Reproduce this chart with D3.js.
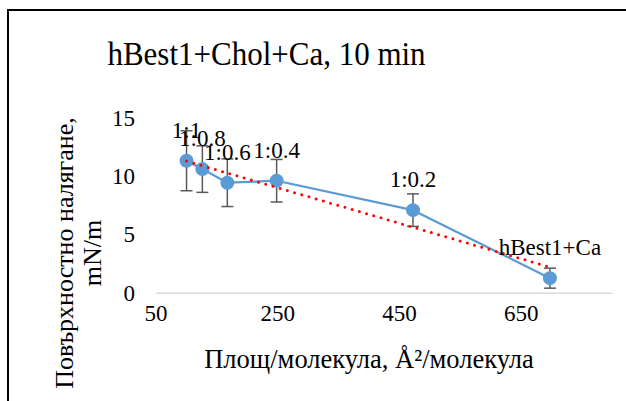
<!DOCTYPE html>
<html>
<head>
<meta charset="utf-8">
<script src="https://cdn.jsdelivr.net/npm/d3@7"></script>
<style>
  html, body { margin: 0; padding: 0; background: #fff; }
  svg { display: block; }
</style>
</head>
<body>
<svg id="chart" width="626" height="401"></svg>
<script>
// Surface pressure vs. area per molecule, hBest1 with cholesterol and Ca
const labels = ["1:1", "1:0.8", "1:0.6", "1:0.4", "1:0.2", "hBest1+Ca"];
const areas = [101, 127, 168, 249, 473, 698];
const pressures = [11.35, 10.63, 9.46, 9.63, 7.1, 1.25];
const errors = [2.58, 2.0, 2.05, 1.83, 1.4, 0.86];
const xTicks = [50, 250, 450, 650];
const yTicks = [0, 5, 10, 15];

const FONT = "'Liberation Serif'";

const svg = d3.select("#chart");

// Chart frame (right and bottom run past the visible area)
svg.append("rect")
  .attr("x", 8).attr("y", 10)
  .attr("width", 700).attr("height", 500)
  .attr("fill", "none").attr("stroke", "#000").attr("stroke-width", 2);

const x = d3.scaleLinear().domain([50, 800]).range([155.5, 612]);
const y = d3.scaleLinear().domain([0, 15]).range([292.7, 118.3]);

function serif(sel, size) {
  return sel.style("font-family", FONT).style("font-size", size + "px").style("fill", "#000");
}

// Title
serif(svg.append("text")
  .attr("transform", "translate(266.5,65) scale(1,1.12)")
  .attr("text-anchor", "middle"), 31)
  .text("hBest1+Chol+Ca, 10 min");

// X axis line and tick labels
const xAxis = d3.axisBottom(x).tickValues(xTicks).tickSize(0).tickPadding(12);
const gx = svg.append("g").attr("transform", `translate(0,${y(0)})`).call(xAxis);
gx.select(".domain").attr("stroke", "#d9d9d9").attr("stroke-width", 1.5);
serif(gx.selectAll("text"), 23);

// Y axis tick labels only
const yAxis = d3.axisLeft(y).tickValues(yTicks).tickSize(0).tickPadding(0);
const gy = svg.append("g").attr("transform", "translate(135,0)").call(yAxis);
gy.select(".domain").remove();
serif(gy.selectAll("text"), 23);

// Axis titles
serif(svg.append("text")
  .attr("x", 369).attr("y", 368)
  .attr("text-anchor", "middle"), 26.5)
  .text("Площ/молекула, Å²/молекула");

const yTitle = serif(svg.append("text")
  .attr("transform", "rotate(-90)")
  .attr("text-anchor", "middle"), 26);
yTitle.append("tspan").attr("x", -253).attr("y", 73).text("Повърхностно налягане,");
yTitle.append("tspan").attr("x", -253).attr("y", 101).text("mN/m");

const pts = areas.map((a, i) => ({ a, p: pressures[i], e: errors[i], label: labels[i] }));

// Series line
svg.append("path")
  .datum(pts)
  .attr("fill", "none")
  .attr("stroke", "#5b9bd5")
  .attr("stroke-width", 2.25)
  .attr("stroke-linejoin", "round")
  .attr("d", d3.line().x(d => x(d.a)).y(d => y(d.p)));

// Error bars
const eb = svg.append("g").attr("stroke", "#595959").attr("stroke-width", 1.5);
pts.forEach(d => {
  eb.append("line").attr("x1", x(d.a)).attr("x2", x(d.a)).attr("y1", y(d.p - d.e)).attr("y2", y(d.p + d.e));
  [d.p - d.e, d.p + d.e].forEach(v => {
    eb.append("line").attr("x1", x(d.a) - 6).attr("x2", x(d.a) + 6).attr("y1", y(v)).attr("y2", y(v));
  });
});

// Markers
svg.append("g").selectAll("circle").data(pts).join("circle")
  .attr("cx", d => x(d.a)).attr("cy", d => y(d.p)).attr("r", 7)
  .attr("fill", "#5b9bd5");

// Linear trend line (least squares)
const mx = d3.mean(areas), my = d3.mean(pressures);
const slope = d3.sum(areas, (a, i) => (a - mx) * (pressures[i] - my)) / d3.sum(areas, a => (a - mx) ** 2);
const icept = my - slope * mx;
const [x0, x1] = d3.extent(areas);
svg.append("line")
  .attr("x1", x(x0)).attr("y1", y(icept + slope * x0))
  .attr("x2", x(x1)).attr("y2", y(icept + slope * x1))
  .attr("stroke", "#ff0000").attr("stroke-width", 3)
  .attr("stroke-linecap", "round").attr("stroke-dasharray", "0 7.5");

// Data labels
serif(svg.append("g").selectAll("text").data(pts).join("text")
  .attr("x", d => x(d.a)).attr("y", d => y(d.p) - 31)
  .attr("dy", "0.35em")
  .attr("text-anchor", "middle"), 23)
  .text(d => d.label);
</script>
</body>
</html>
